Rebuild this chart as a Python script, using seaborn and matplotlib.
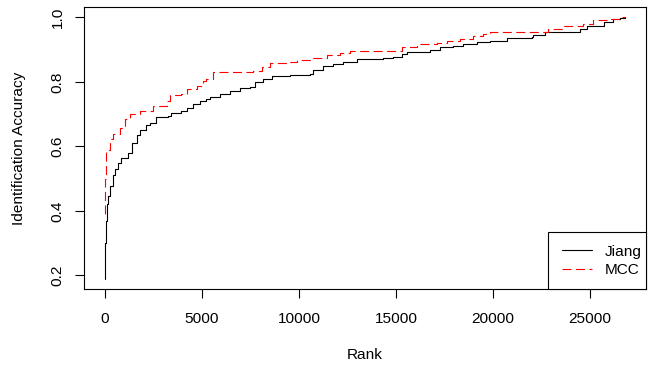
import numpy as np
import pandas as pd
import matplotlib
matplotlib.use("Agg")
import matplotlib.pyplot as plt
from matplotlib.patches import Rectangle
import seaborn as sns

# ---- data ----
jiang_rank = [0, 20, 50, 100, 150, 258, 400, 515, 700, 860, 1200, 1425, 1650, 1838, 2100,
              2318, 2662, 3263, 3435, 3950, 4250, 4550, 4894, 5237, 5410, 5925, 6440, 6955,
              7470, 7728, 8157, 8587, 9531, 10562, 10733, 11248, 11763, 12278, 12622, 12966,
              14338, 14853, 15286, 15543, 16744, 17259, 17946, 18461, 19150, 19835, 20695,
              21983, 22067, 22669, 24472, 24815, 25708, 26187, 26533, 26800]
jiang_acc = [0.19, 0.30, 0.37, 0.42, 0.445, 0.477, 0.51, 0.529, 0.55, 0.565, 0.58, 0.612,
             0.635, 0.651, 0.665, 0.674, 0.690, 0.695, 0.705, 0.710, 0.72, 0.731, 0.741,
             0.747, 0.752, 0.762, 0.773, 0.781, 0.785, 0.80, 0.809, 0.819, 0.822, 0.825,
             0.837, 0.850, 0.856, 0.861, 0.863, 0.871, 0.874, 0.878, 0.887, 0.894, 0.90,
             0.907, 0.911, 0.918, 0.923, 0.928, 0.936, 0.939, 0.946, 0.954, 0.965, 0.973,
             0.985, 0.994, 0.999, 1.0]
mcc_rank = [0, 20, 50, 85, 258, 430, 773, 1030, 1288, 1803, 2490, 3178, 3349, 3950, 4210,
            4724, 5066, 5237, 5581, 7642, 8071, 8500, 9531, 9874, 10562, 11420, 12107, 12622,
            14853, 15286, 16059, 16229, 17088, 17604, 18290, 18977, 19495, 19835, 22840,
            23612, 24643, 25158, 26018, 26533, 26800]
mcc_acc = [0.39, 0.50, 0.56, 0.59, 0.622, 0.638, 0.658, 0.684, 0.70, 0.71, 0.726, 0.741,
           0.760, 0.763, 0.778, 0.788, 0.804, 0.809, 0.83, 0.835, 0.847, 0.858, 0.861, 0.868,
           0.874, 0.882, 0.889, 0.895, 0.897, 0.907, 0.913, 0.918, 0.921, 0.928, 0.934, 0.941,
           0.949, 0.956, 0.965, 0.975, 0.980, 0.991, 0.996, 1.0, 1.0]
series_names = ["Jiang", "MCC"]
x_ticks = [0, 5000, 10000, 15000, 20000, 25000]
y_ticks = [0.2, 0.4, 0.6, 0.8, 1.0]

sns.set_theme(style="white")
plt.rcParams["font.family"] = ["Liberation Sans", "DejaVu Sans"]
plt.rcParams["lines.scale_dashes"] = False

W, H = 652, 367
fig = plt.figure(figsize=(W / 100, H / 100), dpi=100)
# axes box in pixels: left 84, right 646, top 7, bottom 289
L, R, T, B = 84, 646, 7, 289
ax = fig.add_axes([L / W, 1 - B / H, (R - L) / W, (B - T) / H])


def ax_x(px):
    return (px - L) / (R - L)


def ax_y(py):
    return (B - py) / (B - T)


df_j = pd.DataFrame({"Rank": jiang_rank, "Accuracy": jiang_acc})
df_m = pd.DataFrame({"Rank": mcc_rank, "Accuracy": mcc_acc})

lw = 0.8
sns.lineplot(data=df_j, x="Rank", y="Accuracy", ax=ax, color="black", linewidth=lw,
             drawstyle="steps-post", label=series_names[0], estimator=None)
sns.lineplot(data=df_m, x="Rank", y="Accuracy", ax=ax, color="#FF0000", linewidth=lw,
             drawstyle="steps-post", label=series_names[1], estimator=None,
             dashes=False)
ax.lines[1].set_dashes([6.5, 3.2])

ax.set_xlim(-1071, 27873)
ax.set_ylim(0.1576, 1.0324)
ax.set_xticks(x_ticks)
ax.set_xticklabels([str(t) for t in x_ticks])
ax.set_yticks(y_ticks)
ax.set_yticklabels([f"{t:.1f}" for t in y_ticks], rotation=90, va="center")

fs = 11.1
ax.tick_params(axis="both", direction="out", length=6.5, width=0.8, color="black",
               labelsize=fs, labelcolor="black", bottom=True, left=True)
ax.tick_params(axis="x", pad=10)
ax.tick_params(axis="y", pad=7.5)
for s in ax.spines.values():
    s.set_visible(True)
    s.set_color("black")
    s.set_linewidth(0.8)

ax.set_xlabel("Rank", fontsize=fs, color="black")
ax.set_ylabel("Identification Accuracy", fontsize=fs, color="black")
ax.xaxis.set_label_coords(0.5, ax_y(355))
ax.xaxis.label.set_va("center")
ax.yaxis.set_label_coords(ax_x(19), 0.5)
ax.yaxis.label.set_va("center")

# legend frame drawn as a box in the lower-right corner (R-style legend)
frame = Rectangle((ax_x(548), 0), 1 - ax_x(548), ax_y(232), transform=ax.transAxes,
                  facecolor="white", edgecolor="black", linewidth=0.8, zorder=4.5,
                  clip_on=False)
ax.add_patch(frame)
leg = ax.legend(loc="center left", bbox_to_anchor=(ax_x(562), ax_y(261)),
                borderaxespad=0, borderpad=0, frameon=False, fontsize=fs,
                handlelength=30 / (fs * 100 / 72), handletextpad=0.85,
                labelspacing=0.3)
leg.set_zorder(5)
for t in leg.get_texts():
    t.set_color("black")

fig.savefig("out.png", dpi=100)
